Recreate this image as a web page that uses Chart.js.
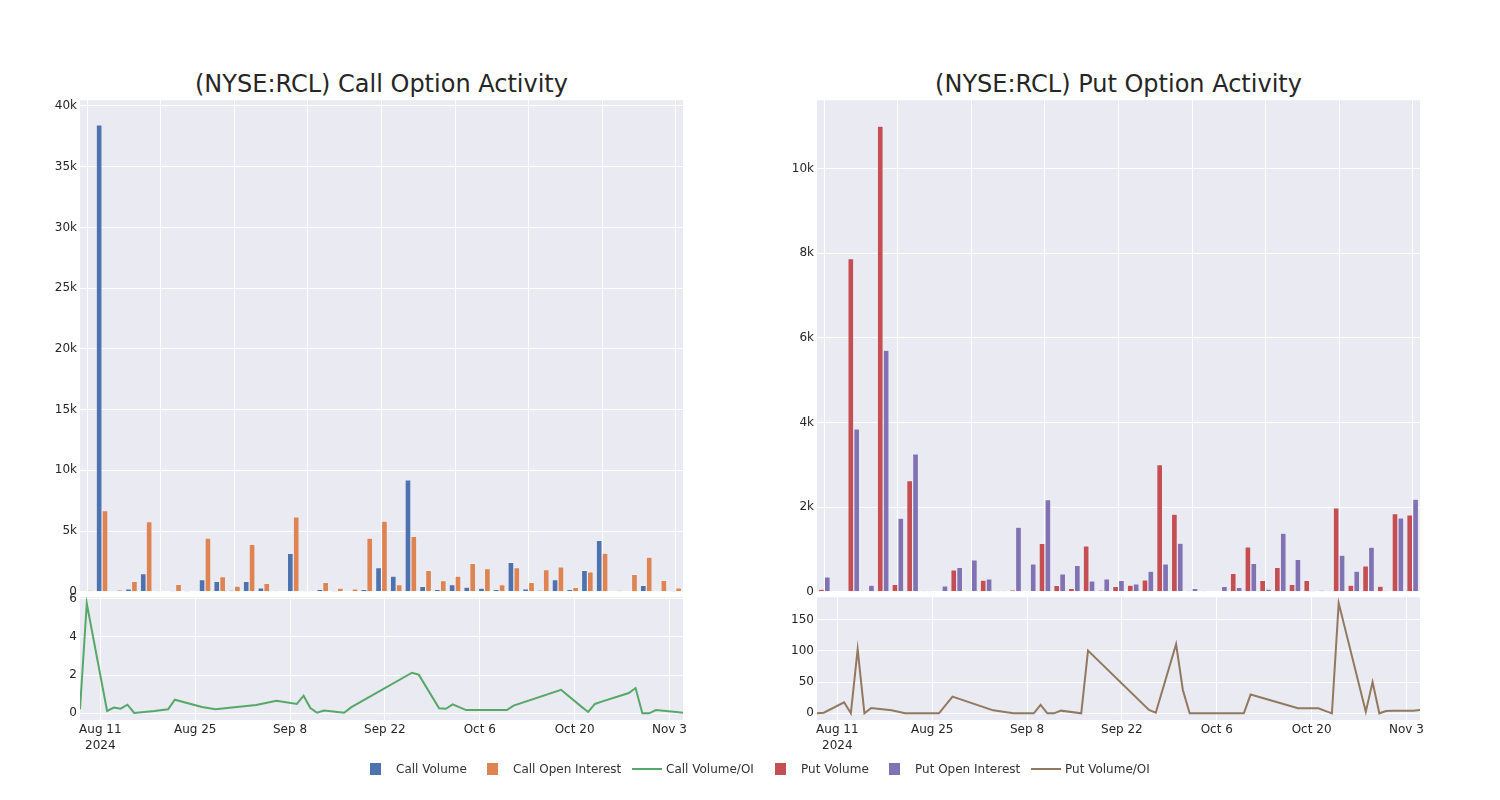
<!DOCTYPE html>
<html><head><meta charset="utf-8">
<script src="https://cdn.jsdelivr.net/npm/chart.js@4.4.1/dist/chart.umd.min.js"></script>
<style>
body{margin:0;background:#fff;width:1500px;height:800px;position:relative;overflow:hidden;font-family:"DejaVu Sans",sans-serif;}
canvas{position:absolute;}
.title{position:absolute;top:69px;height:30px;line-height:30px;font-size:24px;color:#262626;text-align:center;white-space:nowrap;}
#legend{position:absolute;left:370px;top:761px;height:16px;font-size:12px;color:#333;white-space:nowrap;}
.sq{position:absolute;top:2px;width:11px;height:12px;}
.ln{position:absolute;top:7px;width:30px;height:2px;}
.tx{position:absolute;top:0;line-height:16px;}
</style></head>
<body>
<div class="title" style="left:80px;width:603px">(NYSE:RCL) Call Option Activity</div>
<div class="title" style="left:817px;width:603px">(NYSE:RCL) Put Option Activity</div>
<div style="position:absolute;left:0;top:90px;width:700px;height:512px"><canvas id="c1" width="700" height="512" style="left:0;top:0"></canvas></div>
<div style="position:absolute;left:0;top:587px;width:700px;height:178px"><canvas id="c2" width="700" height="178" style="left:0;top:0"></canvas></div>
<div style="position:absolute;left:737px;top:90px;width:700px;height:512px"><canvas id="c3" width="700" height="512" style="left:0;top:0"></canvas></div>
<div style="position:absolute;left:737px;top:587px;width:700px;height:178px"><canvas id="c4" width="700" height="178" style="left:0;top:0"></canvas></div>
<div id="legend"></div>
<script>
// ---- data ----
const dates = ['2024-08-08','2024-08-09','2024-08-12','2024-08-13','2024-08-14','2024-08-15','2024-08-16','2024-08-19','2024-08-21','2024-08-22','2024-08-26','2024-08-28',
 '2024-09-03','2024-09-06','2024-09-09','2024-09-10','2024-09-11','2024-09-12','2024-09-13','2024-09-16','2024-09-17','2024-09-26','2024-09-27','2024-09-30',
 '2024-10-01','2024-10-02','2024-10-04','2024-10-10','2024-10-11','2024-10-18','2024-10-21','2024-10-22','2024-10-23','2024-10-24','2024-10-28','2024-10-29','2024-10-30','2024-10-31',
 '2024-11-01','2024-11-04','2024-11-05'];
const callVolume = [29,38430,20,247,1484,25,12,6,990,852,137,852,330,20,3161,75,192,9,35,200,1987,1297,9218,442,193,580,386,304,193,2429,248,138,994,193,1766,4223,0,0,524,55,10];
const callOI = [137,6680,165,852,5773,55,605,55,4426,1237,467,3904,687,30,6158,82,770,302,247,4426,5824,580,4554,1766,911,1297,2346,1904,580,1987,773,1822,2042,359,1628,3174,138,1435,2843,938,331];
const callRatio = [0.21,5.74,0.12,0.30,0.24,0.45,0.02,0.12,0.21,0.71,0.33,0.21,0.43,0.66,0.49,0.92,0.28,0.03,0.14,0.03,0.31,2.12,2.02,0.26,0.24,0.47,0.17,0.17,0.40,1.23,0.35,0.07,0.49,0.61,1.06,1.32,0,0,0.17,0.07,0.03];
const putVolume = [60,10,7874,10,11008,173,2630,5,20,520,5,276,5,47,20,1142,150,79,1087,40,126,157,283,3008,1835,5,5,20,433,1063,268,575,173,268,39,1984,157,614,134,1850,1819];
const putOI = [350,10,3850,157,5709,1740,3260,5,142,575,756,307,5,1528,661,2181,425,622,260,307,268,189,488,661,1150,79,20,126,102,669,63,1386,764,2,16,866,488,1055,24,1748,2189];
const putRatio = [0,1,17.6,0,102.7,0,8.6,5,0,0,0,26.7,4.8,0,0,13.4,0,0,4.3,0,100.5,5.3,1,110.7,37.4,0,0,0,30,8,8,4,0,176.5,2.7,50,0,3.7,4.3,4.3,5.3];
const dateTicks = ['2024-08-11','2024-08-25','2024-09-08','2024-09-22','2024-10-06','2024-10-20','2024-11-03'];
const callBarTicks = [0,5000,10000,15000,20000,25000,30000,35000,40000];
const putBarTicks = [0,2000,4000,6000,8000,10000];
const callRatioTicks = [0,2,4,6];
const putRatioTicks = [0,50,100,150];

const COLORS = {callVol:'#4C72B0', callOI:'#DD8452', callRatio:'#55A868', putVol:'#C44E52', putOI:'#8172B3', putRatio:'#937860'};
const BG = '#EAEAF2', TXT = '#262626';
const MONTHS = ['Jan','Feb','Mar','Apr','May','Jun','Jul','Aug','Sep','Oct','Nov','Dec'];
Chart.defaults.font.family = '"DejaVu Sans", sans-serif';
Chart.defaults.font.size = 12;
Chart.defaults.color = TXT;

const bgPlugin = {id:'bg', beforeDraw(ch){const a=ch.chartArea, c=ch.ctx; c.save(); c.fillStyle=BG; c.fillRect(a.left,a.top,a.right-a.left,a.bottom-a.top); c.restore();}};
const ts = d => Date.parse(d);
const kfmt = v => v===0 ? '0' : (v/1000)+'k';

function barChart(id, labels, d1, d2, c1, c2, l1, l2, ticks, ymax){
  return new Chart(document.getElementById(id), {
    type:'bar',
    data:{labels, datasets:[
      {label:l1, data:d1, backgroundColor:c1, borderColor:'rgba(255,255,255,0.45)', borderWidth:0.6, categoryPercentage:0.8, barPercentage:1.0},
      {label:l2, data:d2, backgroundColor:c2, borderColor:'rgba(255,255,255,0.45)', borderWidth:0.6, categoryPercentage:0.8, barPercentage:1.0}
    ]},
    options:{responsive:false, animation:false, events:[],
      layout:{padding:{top:10,right:17,bottom:0,left:0}},
      plugins:{legend:{display:false}, tooltip:{enabled:false}},
      scales:{
        x:{type:'category', offset:true, border:{display:false},
          grid:{offset:false, drawTicks:false, lineWidth:1, color:c=> (c.index%5===0)?'#ffffff':'rgba(0,0,0,0)'},
          ticks:{display:false, autoSkip:false}, afterFit:s=>{s.height=0;}},
        y:{min:0, max:ymax, border:{display:false},
          grid:{color:'#ffffff', lineWidth:1, drawTicks:false},
          ticks:{padding:3, callback:v=>kfmt(v)},
          afterBuildTicks:s=>{s.ticks=ticks.map(v=>({value:v}));},
          afterFit:s=>{s.width=80;}}
      }}, plugins:[bgPlugin]});
}

function lineChart(id, vals, color, label, ticks, ymin, ymax){
  const pts = dates.map((d,i)=>({x:ts(d), y:vals[i]}));
  return new Chart(document.getElementById(id), {
    type:'line',
    data:{datasets:[{label, data:pts, borderColor:color, borderWidth:2, pointRadius:0, tension:0, fill:false}]},
    options:{responsive:false, animation:false, events:[],
      layout:{padding:{top:7,right:17,bottom:0,left:0}},
      plugins:{legend:{display:false}, tooltip:{enabled:false}},
      scales:{
        x:{type:'linear', min:ts(dates[0]), max:ts(dates[dates.length-1]), border:{display:false},
          grid:{color:'#ffffff', lineWidth:1, drawTicks:false},
          ticks:{padding:2, maxRotation:0, autoSkip:false, font:{lineHeight:1.35},
            callback:(v,i)=>{const d=new Date(v); const s=MONTHS[d.getUTCMonth()]+' '+d.getUTCDate(); return i===0?[s, String(d.getUTCFullYear())]:s;}},
          afterBuildTicks:s=>{s.ticks=dateTicks.map(d=>({value:ts(d)}));},
          afterFit:s=>{s.height=45;}},
        y:{min:ymin, max:ymax, border:{display:false},
          grid:{color:'#ffffff', lineWidth:1, drawTicks:false},
          ticks:{padding:3},
          afterBuildTicks:s=>{s.ticks=ticks.map(v=>({value:v}));},
          afterFit:s=>{s.width=80;}}
      }}, plugins:[bgPlugin]});
}

barChart('c1', dates, callVolume, callOI, COLORS.callVol, COLORS.callOI, 'Call Volume', 'Call Open Interest', callBarTicks, 40470);
lineChart('c2', callRatio, COLORS.callRatio, 'Call Volume/OI', callRatioTicks, -0.35, 6.07);
barChart('c3', dates, putVolume, putOI, COLORS.putVol, COLORS.putOI, 'Put Volume', 'Put Open Interest', putBarTicks, 11620);
lineChart('c4', putRatio, COLORS.putRatio, 'Put Volume/OI', putRatioTicks, -10.7, 186);

// legend
const legendItems = [
  {t:'Call Volume', c:COLORS.callVol, k:'sq', x:0, tx:26},
  {t:'Call Open Interest', c:COLORS.callOI, k:'sq', x:117, tx:143},
  {t:'Call Volume/OI', c:COLORS.callRatio, k:'ln', x:262, tx:296},
  {t:'Put Volume', c:COLORS.putVol, k:'sq', x:405, tx:431},
  {t:'Put Open Interest', c:COLORS.putOI, k:'sq', x:519, tx:545},
  {t:'Put Volume/OI', c:COLORS.putRatio, k:'ln', x:661, tx:695}
];
const lg = document.getElementById('legend');
legendItems.forEach(it=>{
  const m = document.createElement('div'); m.className=it.k; m.style.left=it.x+'px'; m.style.background=it.c; lg.appendChild(m);
  const t = document.createElement('div'); t.className='tx'; t.style.left=it.tx+'px'; t.textContent=it.t; lg.appendChild(t);
});
</script>
</body></html>
